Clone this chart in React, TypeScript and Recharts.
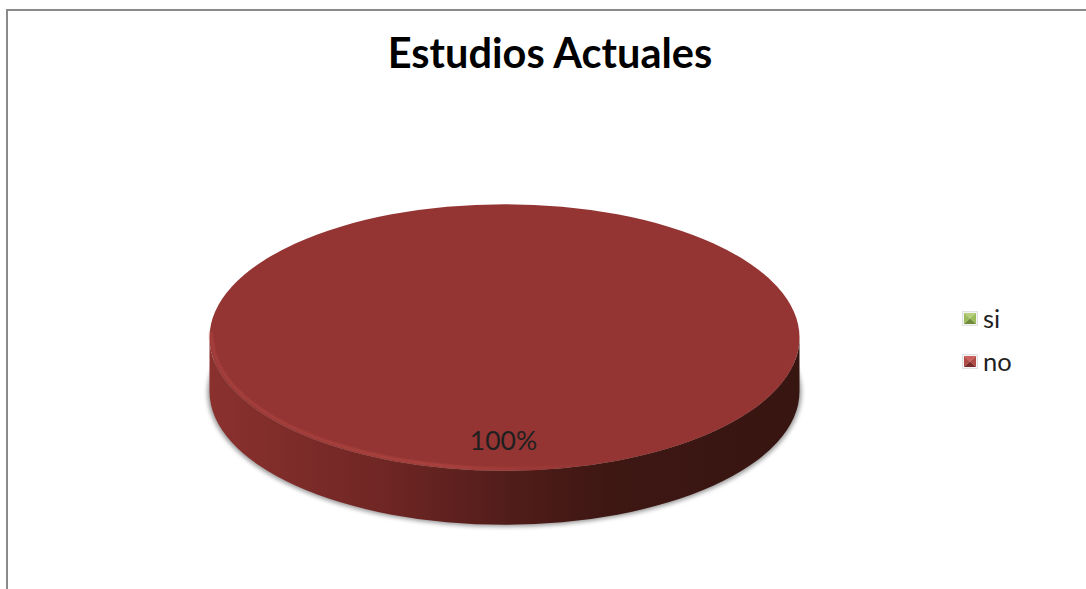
import React from "react";
import { PieChart, Pie, Legend } from "recharts";

const chartTitle = "Estudios Actuales";
const categories = ["si", "no"];
const values = [0, 100];
const sliceColors = ["#9bbb59", "#943533"];
const legendColors = [
  { top: "#b5cf7c", side: "#9bbb59", bottom: "#6f8a3a" },
  { top: "#cf5f5c", side: "#b04a47", bottom: "#7a2c2a" },
];

const WIDTH = 1086;
const HEIGHT = 589;
const FONT = "Lato, 'Open Sans', sans-serif";
const TILT = 0.452;
const DEPTH = 54;

const tableData = categories.map((name, i) => ({ name, value: values[i], fill: sliceColors[i] }));

function DiscShape(props: any) {
  const { cx, cy, outerRadius, fill, value } = props;
  if (!value) return null;
  const rx = outerRadius;
  const ry = outerRadius * TILT;
  const side = `M ${cx - rx} ${cy} A ${rx} ${ry} 0 0 0 ${cx + rx} ${cy} L ${cx + rx} ${cy + DEPTH} A ${rx} ${ry} 0 0 1 ${cx - rx} ${cy + DEPTH} Z`;
  const rim = `M ${cx - rx + 1.5} ${cy - 6} Q ${cx - rx + 1} ${cy} ${cx - rx + 3} ${cy + 6} A ${rx - 1} ${ry - 1} 0 0 0 ${cx + rx * 0.3} ${cy + ry * 0.94}`;
  return (
    <g>
      <defs>
        <linearGradient id="sideGrad" x1="0" y1="0" x2="1" y2="0">
          <stop offset="0" stopColor="#8a312e" />
          <stop offset="0.3" stopColor="#6f2624" />
          <stop offset="0.5" stopColor="#521d1a" />
          <stop offset="0.67" stopColor="#3e1713" />
          <stop offset="1" stopColor="#371511" />
        </linearGradient>
        <linearGradient id="rimGrad" x1="0" y1="0" x2="1" y2="0">
          <stop offset="0" stopColor="#bd4d49" stopOpacity="0.55" />
          <stop offset="0.6" stopColor="#bd4d49" stopOpacity="0.7" />
          <stop offset="1" stopColor="#bd4d49" stopOpacity="0" />
        </linearGradient>
        <filter id="shadowBlur" x="-10%" y="-10%" width="120%" height="130%" colorInterpolationFilters="sRGB">
          <feGaussianBlur stdDeviation="2" />
        </filter>
        <filter id="rimBlur" x="-5%" y="-5%" width="110%" height="110%" colorInterpolationFilters="sRGB">
          <feGaussianBlur stdDeviation="1" />
        </filter>
        <filter id="edgeBlur" x="-2%" y="-2%" width="104%" height="104%" colorInterpolationFilters="sRGB">
          <feGaussianBlur stdDeviation="0.6" />
        </filter>
      </defs>
      <ellipse cx={cx} cy={cy + DEPTH + 1} rx={rx + 2} ry={ry + 1} fill="#9a9a9a" filter="url(#shadowBlur)" />
      <path d={side} fill="url(#sideGrad)" />
      <ellipse cx={cx} cy={cy} rx={rx} ry={ry} fill={fill} filter="url(#edgeBlur)" />
      <path d={rim} fill="none" stroke="url(#rimGrad)" strokeWidth={2.5} filter="url(#rimBlur)" />
    </g>
  );
}

function PercentLabel(props: any) {
  const { cx, cy, outerRadius, percent, value } = props;
  if (!value) return null;
  return (
    <text x={cx - 1} y={cy + outerRadius * 0.358} textAnchor="middle" dominantBaseline="middle" fontFamily={FONT} fontSize={26.5} fill="#1f1f1f">
      {`${Math.round(percent * 100)}%`}
    </text>
  );
}

function LegendIcon({ c }: { c: { top: string; side: string; bottom: string } }) {
  return (
    <svg width={16} height={15} style={{ display: "block", marginTop: 2 }}>
      <rect x={0.5} y={0.5} width={15} height={14} fill="#f4f4f4" stroke="#e2e2e2" />
      <polygon points="2,2 14,2 8,7.5" fill={c.top} />
      <polygon points="2,2 8,7.5 2,13" fill={c.side} />
      <polygon points="14,2 8,7.5 14,13" fill={c.side} />
      <polygon points="2,13 14,13 8,7.5" fill={c.bottom} />
    </svg>
  );
}

function LegendContent(props: any) {
  const items = props.payload || [];
  return (
    <div style={{ fontFamily: FONT, fontSize: 25.5, color: "#1f1f1f" }}>
      {items.map((item: any, i: number) => (
        <div key={item.value} style={{ display: "flex", alignItems: "center", height: 43, gap: 5 }}>
          <LegendIcon c={legendColors[i]} />
          <span>{item.value}</span>
        </div>
      ))}
    </div>
  );
}

export default function App() {
  return (
    <div style={{ position: "absolute", left: 0, top: 0, width: WIDTH, height: HEIGHT, overflow: "hidden", background: "#fff" }}>
      <div style={{ position: "absolute", left: 6, top: 9, width: WIDTH, height: HEIGHT, borderLeft: "2px solid #8a8a8a", borderTop: "2px solid #8a8a8a" }} />
      <PieChart width={WIDTH} height={HEIGHT} margin={{ top: 0, right: 0, bottom: 0, left: 0 }} style={{ position: "absolute", left: 0, top: 0 }}>
        <text x={550} y={57} textAnchor="middle" dominantBaseline="middle" fontFamily={FONT} fontWeight={700} fontSize={41.5} fill="#000">
          {chartTitle}
        </text>
        <Pie
          data={tableData}
          dataKey="value"
          nameKey="name"
          cx={504.5}
          cy={337.5}
          outerRadius={295}
          startAngle={90}
          endAngle={-270}
          stroke="none"
          shape={DiscShape}
          label={PercentLabel}
          labelLine={false}
          isAnimationActive={false}
        />
        <Legend
          layout="vertical"
          align="right"
          verticalAlign="middle"
          itemSorter={null}
          content={LegendContent}
          wrapperStyle={{ position: "absolute", left: 962, top: 296, right: "auto", bottom: "auto", width: 80 }}
        />
      </PieChart>
    </div>
  );
}
